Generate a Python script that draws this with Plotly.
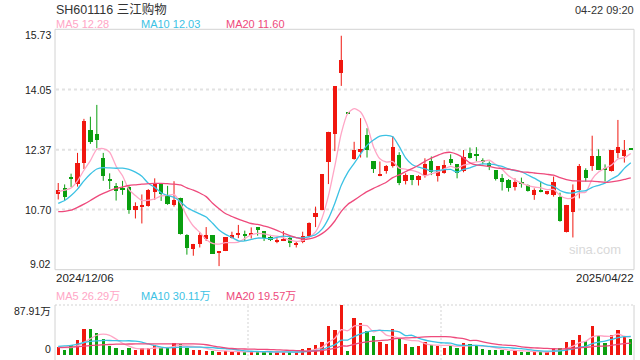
import plotly.graph_objects as go
import pandas as pd

W, H = 640, 360

# ---------------- data ----------------
start_label = "2024/12/06"
end_label = "2025/04/22"
stamp = "04-22 09:20"
title = "SH601116 三江购物"

open_ = [11.12, 11.29, 11.57, 11.40, 11.98, 12.91, 12.81, 12.13, 11.55, 11.35,
         11.26, 11.31, 10.67, 10.78, 10.80, 11.17, 11.40, 11.08, 10.82, 11.00,
         9.97, 9.60, 9.73, 9.86, 9.97, 9.47, 9.54, 9.92, 9.99, 9.98,
         9.97, 10.19, 10.09, 9.93, 9.79, 9.84, 9.90, 9.72, 9.78, 9.96,
         10.49, 10.69, 12.01, 12.80, 14.49, 13.39, 12.09, 12.29, 12.78, 12.04,
         11.63, 11.78, 11.90, 12.22, 11.48, 11.66, 11.52, 11.66, 12.04, 11.62,
         11.70, 12.11, 11.96, 11.76, 12.28, 12.21, 12.04, 11.99, 11.80, 11.57,
         11.51, 11.32, 11.44, 11.37, 11.09, 11.25, 11.15, 11.09, 11.04, 10.06,
         10.61, 11.25, 11.80, 11.92, 12.18, 11.81, 11.76, 12.27, 12.18, 12.39]
high = [11.44, 11.40, 11.70, 12.28, 13.23, 13.29, 13.62, 12.28, 11.71, 11.44,
        11.50, 11.35, 10.90, 11.12, 11.27, 11.57, 11.40, 11.36, 11.49, 11.03,
        10.01, 9.74, 10.06, 10.21, 9.97, 9.54, 9.93, 10.08, 10.27, 10.11,
        10.20, 10.19, 10.09, 9.99, 9.90, 10.10, 9.97, 9.80, 10.08, 10.34,
        10.78, 11.68, 12.87, 14.14, 15.55, 13.39, 12.59, 13.25, 12.97, 12.04,
        12.04, 11.94, 12.75, 12.30, 11.71, 11.66, 11.66, 12.13, 12.18, 11.90,
        12.08, 12.24, 11.96, 12.36, 12.43, 12.44, 12.13, 12.04, 11.80, 11.69,
        11.55, 11.57, 11.59, 11.40, 11.29, 11.48, 11.22, 11.62, 11.17, 10.83,
        11.40, 11.97, 11.85, 12.76, 12.38, 11.96, 12.36, 13.20, 12.64, 12.39]
low = [10.98, 10.94, 11.33, 11.34, 11.83, 12.53, 12.41, 11.50, 11.27, 10.95,
       11.11, 10.58, 10.45, 10.31, 10.78, 10.97, 10.94, 10.83, 10.78, 10.00,
       9.44, 9.41, 9.64, 9.82, 9.46, 9.12, 9.54, 9.89, 9.90, 9.82,
       9.89, 9.97, 9.82, 9.82, 9.76, 9.82, 9.65, 9.64, 9.76, 9.93,
       10.21, 10.68, 11.41, 12.33, 14.15, 13.38, 12.09, 12.15, 12.15, 11.72,
       11.63, 11.70, 11.87, 11.38, 11.40, 11.38, 11.37, 11.59, 11.66, 11.48,
       11.70, 11.94, 11.57, 11.74, 12.12, 12.04, 11.96, 11.80, 11.51, 11.23,
       11.20, 11.23, 11.31, 11.20, 10.97, 11.18, 11.11, 11.06, 10.36, 10.06,
       9.92, 11.01, 11.48, 11.78, 11.80, 11.48, 11.76, 12.13, 12.01, 12.38]
close = [11.23, 11.03, 11.55, 12.00, 13.17, 12.58, 12.62, 11.62, 11.51, 11.21,
         11.25, 10.68, 10.80, 10.83, 11.23, 11.43, 11.12, 10.85, 10.97, 10.02,
         9.62, 9.74, 9.97, 9.97, 9.46, 9.54, 9.93, 9.97, 10.05, 9.97,
         10.04, 10.14, 9.90, 9.84, 9.85, 9.86, 9.77, 9.74, 9.95, 10.32,
         10.60, 11.68, 12.85, 14.13, 14.87, 13.38, 12.35, 12.39, 12.34, 11.81,
         11.69, 11.90, 12.45, 11.43, 11.66, 11.52, 11.62, 11.96, 11.74, 11.90,
         11.94, 11.98, 11.71, 12.15, 12.12, 12.20, 12.03, 11.88, 11.55, 11.45,
         11.29, 11.46, 11.43, 11.22, 11.24, 11.18, 11.20, 11.47, 10.36, 10.83,
         11.25, 11.92, 11.57, 12.18, 11.80, 11.80, 12.34, 12.43, 12.36, 12.38]
# volume in 万 shares
volume = [13.5, 8.8, 17.0, 26.4, 45.7, 45.7, 38.7, 27.5, 15.8, 12.9,
          8.8, 12.3, 8.8, 11.7, 11.7, 17.0, 12.9, 12.9, 21.1, 19.9,
          12.3, 8.8, 8.8, 7.6, 7.6, 5.3, 6.4, 5.3, 5.9, 5.3,
          5.3, 5.3, 5.3, 5.3, 5.3, 4.7, 5.3, 5.3, 10.0, 11.7,
          17.0, 23.4, 51.0, 44.0, 87.9, 7.0, 65.0, 56.3, 42.2, 33.4,
          22.9, 19.3, 45.7, 28.7, 19.3, 14.1, 15.8, 22.3, 18.2, 15.8,
          12.3, 17.0, 12.3, 21.1, 18.8, 15.8, 10.0, 8.8, 8.8, 8.8,
          7.0, 7.6, 5.3, 5.3, 5.3, 5.3, 5.3, 11.7, 11.7, 22.9,
          26.4, 35.2, 24.0, 51.0, 33.4, 21.1, 35.2, 44.0, 31.1, 27.5]

# leading moving-average values (periods before the first visible day)
ma5_head = [11.20, 11.24, 11.30, 11.50]
ma10_head = [10.87, 10.95, 11.09, 11.27, 11.50, 11.69, 11.83, 11.87, 11.86]
ma20_head = [10.64, 10.65, 10.68, 10.76, 10.85, 10.95, 11.06, 11.15, 11.23, 11.29,
             11.33, 11.37, 11.39, 11.41, 11.42, 11.43, 11.43, 11.42, 11.41]
vma5_head = [14.0, 13.0, 13.0, 16.0]
vma10_head = [15.0, 16.0, 17.0, 19.0, 22.0, 24.0, 25.0, 25.5, 25.5]
vma20_head = [13.0, 13.5, 14.0, 14.5, 15.5, 16.5, 17.5, 18.0, 18.5, 19.0,
              19.2, 19.3, 19.4, 19.5, 19.6, 19.7, 19.7, 19.6, 19.5]

ma_labels = ["MA5 12.28", "MA10 12.03", "MA20 11.60"]
vma_labels = ["MA5 26.29万", "MA10 30.11万", "MA20 19.57万"]
price_ticks = ["15.73", "14.05", "12.37", "10.70", "9.02"]
price_tick_vals = [15.73, 14.05, 12.37, 10.70, 9.02]
vol_max = 87.91
vol_ticks = ["87.91万", "0"]

# ---------------- styling ----------------
RED = "#f0170f"
GREEN = "#0a9f0f"
C_MA5 = "#ffa6c6"
C_MA10 = "#3cc2e4"
C_MA20 = "#ee4a7c"
GRID = "#e2e2e2"
BORDER = "#d2d2d2"
FONT = "Liberation Sans, Arial, Noto Sans CJK SC, sans-serif"

L, R = 55, 634
PT, PB = 29.3, 269.7
VT, VB = 305, 355


def px(x):
    return x / W


def py(y):
    return 1 - y / H


def ma(values, n, head):
    s = pd.Series(values).rolling(n).mean().tolist()
    return head + s[len(head):]


n = len(close)
xs = list(range(n))
up = [c >= o for o, c in zip(open_, close)]
colors = [RED if u else GREEN for u in up]

fig = go.Figure()

# wicks
for flag, col in ((True, RED), (False, GREEN)):
    wx, wy = [], []
    for i in xs:
        if up[i] == flag:
            wx += [i, i, None]
            wy += [low[i], high[i], None]
    fig.add_trace(go.Scatter(x=wx, y=wy, mode="lines", line=dict(color=col, width=1),
                             hoverinfo="skip", showlegend=False, xaxis="x", yaxis="y"))

# bodies
base = [min(o, c) for o, c in zip(open_, close)]
body = [max(abs(c - o), 0.04) for o, c in zip(open_, close)]
fig.add_trace(go.Bar(x=xs, y=body, base=base, width=0.66, marker=dict(color=colors, line=dict(width=0)),
                     showlegend=False, xaxis="x", yaxis="y"))

for vals, n_, head, col in ((close, 5, ma5_head, C_MA5), (close, 10, ma10_head, C_MA10),
                            (close, 20, ma20_head, C_MA20)):
    fig.add_trace(go.Scatter(x=xs, y=ma(vals, n_, head), mode="lines",
                             line=dict(color=col, width=1.3, shape="spline", smoothing=0.6),
                             showlegend=False, xaxis="x", yaxis="y"))

# volume
fig.add_trace(go.Bar(x=xs, y=volume, width=0.52, marker=dict(color=colors, line=dict(width=0)),
                     showlegend=False, xaxis="x2", yaxis="y2"))
for vals, n_, head, col in ((volume, 5, vma5_head, C_MA5), (volume, 10, vma10_head, C_MA10),
                            (volume, 20, vma20_head, C_MA20)):
    fig.add_trace(go.Scatter(x=xs, y=ma(vals, n_, head), mode="lines",
                             line=dict(color=col, width=1.3, shape="spline", smoothing=0.6),
                             showlegend=False, xaxis="x2", yaxis="y2"))

shapes = []
# price panel border
shapes.append(dict(type="rect", xref="paper", yref="paper", x0=px(L), x1=px(R), y0=py(PB), y1=py(PT),
                   line=dict(color=BORDER, width=1), layer="below"))
for v in price_tick_vals[1:-1]:
    shapes.append(dict(type="line", xref="paper", yref="y", x0=px(L + 1), x1=px(R - 1), y0=v, y1=v,
                       line=dict(color=GRID, width=2, dash="3px,3px"), layer="below"))
# volume panel
shapes.append(dict(type="line", xref="paper", yref="paper", x0=px(L), x1=px(L), y0=py(VB + 5), y1=py(VT),
                   line=dict(color=BORDER, width=1)))
shapes.append(dict(type="line", xref="paper", yref="paper", x0=px(R), x1=px(R), y0=py(VB + 5), y1=py(VT),
                   line=dict(color=BORDER, width=1)))
shapes.append(dict(type="line", xref="paper", yref="paper", x0=px(L), x1=px(R), y0=py(VT), y1=py(VT),
                   line=dict(color=GRID, width=1.5, dash="2px,2px"), layer="below"))
for xv in (29.5, 59.5):
    shapes.append(dict(type="line", xref="x2", yref="paper", x0=xv, x1=xv, y0=py(VB + 5), y1=py(VT),
                       line=dict(color=GRID, width=1.5, dash="2px,2px"), layer="below"))

ann = []


def text(x, y, s, color="#333333", size=12, anchor="left"):
    ann.append(dict(xref="paper", yref="paper", x=px(x), y=py(y), text=s, showarrow=False,
                    xanchor=anchor, yanchor="middle", font=dict(family=FONT, size=size, color=color)))


text(L - 1, 9, title, size=12.5, color="#333333")
text(R + 2, 10, stamp, size=11, anchor="right")
for xx, s, col in zip((L - 1, 139, 224), ma_labels, (C_MA5, C_MA10, C_MA20)):
    text(xx, 24, s, color=col, size=11)
tick_y = [35, 89.5, 149.7, 209.7, 263.5]
for yy, s in zip(tick_y, price_ticks):
    text(53, yy, s, size=10.5, anchor="right", color="#222222")
text(L - 1, 277.5, start_label, size=11.5, color="#222222")
text(R + 2, 277.5, end_label, size=11.5, color="#222222", anchor="right")
for xx, s, col in zip((L - 1, 139, 224), vma_labels, (C_MA5, C_MA10, C_MA20)):
    text(xx, 295.5, s, color=col, size=11)
text(53, 311, vol_ticks[0], size=10.5, anchor="right", color="#222222")
text(53, 348.5, vol_ticks[1], size=10.5, anchor="right", color="#222222")
text(623, 249, "sina.com", size=13, color="#d9d9d9", anchor="right")

fig.update_layout(
    width=W, height=H, margin=dict(l=0, r=0, t=0, b=0),
    paper_bgcolor="white", plot_bgcolor="white", bargap=0, barmode="overlay",
    xaxis=dict(domain=[px(L), px(R)], range=[-0.5, n - 0.5], visible=False, anchor="y"),
    yaxis=dict(domain=[py(PB), py(PT)], range=[price_tick_vals[-1], price_tick_vals[0]], visible=False,
               anchor="x"),
    xaxis2=dict(domain=[px(L), px(R)], range=[-0.5, n - 0.5], visible=False, anchor="y2"),
    yaxis2=dict(domain=[py(VB), py(VT)], range=[0, vol_max], visible=False, anchor="x2"),
    shapes=shapes, annotations=ann, showlegend=False,
)

fig.write_html("out.html", config={"displayModeBar": False},
               post_script="document.body.style.margin='0';document.body.style.overflow='hidden';")
